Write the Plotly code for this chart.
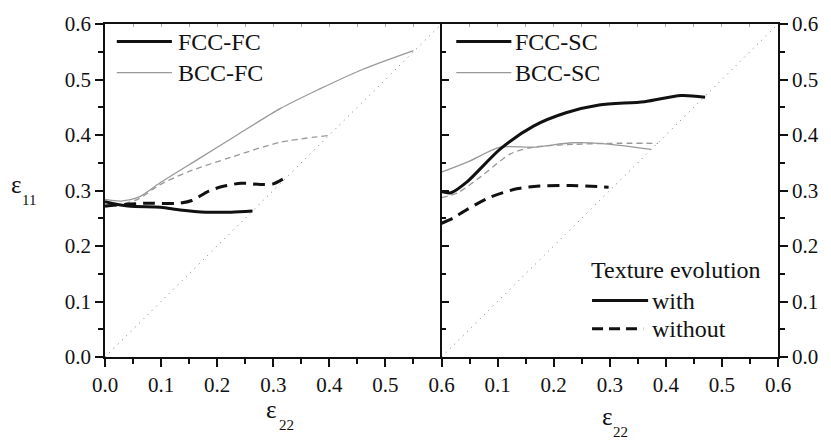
import plotly.graph_objects as go

# ---- data: eps22 (x) vs eps11 (y) ----
# Left panel: FC
fcc_fc_with_x = [0.0, 0.041, 0.099, 0.134, 0.181, 0.225, 0.263]
fcc_fc_with_y = [0.280, 0.272, 0.270, 0.265, 0.261, 0.261, 0.263]
fcc_fc_wo_x = [0.0, 0.07, 0.13, 0.155, 0.185, 0.213, 0.243, 0.277, 0.300, 0.318]
fcc_fc_wo_y = [0.272, 0.277, 0.277, 0.282, 0.299, 0.308, 0.313, 0.311, 0.312, 0.321]
bcc_fc_with_x = [0.0, 0.029, 0.06, 0.097, 0.167, 0.237, 0.313, 0.383, 0.459, 0.55]
bcc_fc_with_y = [0.284, 0.281, 0.288, 0.313, 0.357, 0.401, 0.448, 0.483, 0.518, 0.552]
bcc_fc_wo_x = [0.0, 0.029, 0.06, 0.097, 0.149, 0.225, 0.313, 0.398]
bcc_fc_wo_y = [0.270, 0.275, 0.285, 0.310, 0.334, 0.360, 0.387, 0.399]

# Right panel: SC
fcc_sc_with_x = [0.0, 0.017, 0.046, 0.105, 0.164, 0.222, 0.281, 0.362, 0.427, 0.47]
fcc_sc_with_y = [0.298, 0.296, 0.316, 0.375, 0.416, 0.440, 0.454, 0.460, 0.471, 0.468]
fcc_sc_wo_x = [0.0, 0.02, 0.046, 0.087, 0.134, 0.175, 0.230, 0.298]
fcc_sc_wo_y = [0.241, 0.250, 0.266, 0.288, 0.303, 0.308, 0.309, 0.306]
bcc_sc_with_x = [0.0, 0.046, 0.105, 0.164, 0.234, 0.292, 0.374]
bcc_sc_with_y = [0.333, 0.351, 0.378, 0.378, 0.386, 0.384, 0.374]
bcc_sc_wo_x = [0.0, 0.029, 0.07, 0.123, 0.164, 0.234, 0.300, 0.386]
bcc_sc_wo_y = [0.287, 0.296, 0.325, 0.366, 0.378, 0.383, 0.385, 0.385]

diag = [0.0, 0.6]
x_ticks = [0.0, 0.1, 0.2, 0.3, 0.4, 0.5, 0.6]
y_ticks = [0.0, 0.1, 0.2, 0.3, 0.4, 0.5, 0.6]

FONT = "Times New Roman, Liberation Serif, DejaVu Serif, serif"
BLACK = "#111111"
GRAY = "#999999"
W, H = 831, 443
ML, MR, MT, MB = 105, 42, 15, 86
PW, PH = W - ML - MR, H - MT - MB


def px(xp):
    return (xp - ML) / PW


def py(yp):
    return (H - MB - yp) / PH


fig = go.Figure()

thick = dict(color=BLACK, width=3)
thin = dict(color=GRAY, width=1.3)
thick_dash = dict(color=BLACK, width=3, dash="12px,7px")
thin_dash = dict(color=GRAY, width=1.3, dash="6px,4px")
dotted = dict(color="#777777", width=1, dash="1px,5px")

panels = [
    ("x", "y", fcc_fc_with_x, fcc_fc_with_y, fcc_fc_wo_x, fcc_fc_wo_y,
     bcc_fc_with_x, bcc_fc_with_y, bcc_fc_wo_x, bcc_fc_wo_y),
    ("x2", "y2", fcc_sc_with_x, fcc_sc_with_y, fcc_sc_wo_x, fcc_sc_wo_y,
     bcc_sc_with_x, bcc_sc_with_y, bcc_sc_wo_x, bcc_sc_wo_y),
]
for xa, ya, fwx, fwy, fox, foy, bwx, bwy, box, boy in panels:
    fig.add_trace(go.Scatter(x=diag, y=diag, mode="lines", line=dotted,
                             xaxis=xa, yaxis=ya, showlegend=False))
    for xs, ys, ln in ((box, boy, thin_dash), (bwx, bwy, thin),
                       (fox, foy, thick_dash), (fwx, fwy, thick)):
        fig.add_trace(go.Scatter(x=xs, y=ys, mode="lines",
                                 line=dict(ln, shape="spline", smoothing=0.8),
                                 xaxis=xa, yaxis=ya, showlegend=False))

tickfont = dict(family=FONT, size=21, color=BLACK)
common = dict(range=[0, 0.6], showgrid=False, zeroline=False, showline=True,
              linecolor=BLACK, linewidth=1.5, tickfont=tickfont,
              tickcolor=BLACK, tickwidth=1.5, ticklen=8, tickformat=".1f")
minor_out = dict(ticks="outside", ticklen=5, dtick=0.05, tick0=0, tickcolor=BLACK, tickwidth=1.5)
minor_in = dict(ticks="inside", ticklen=5, dtick=0.05, tick0=0, tickcolor=BLACK, tickwidth=1.5)
top = dict(range=[0, 0.6], showgrid=False, zeroline=False, showline=True,
           linecolor=BLACK, linewidth=1.5, side="top", ticks="inside",
           ticklen=3, tickcolor="#aaaaaa", tickwidth=1, dtick=0.05, tick0=0,
           showticklabels=False)

fig.update_layout(
    width=W, height=H,
    margin=dict(l=ML, r=MR, t=MT, b=MB),
    paper_bgcolor="white", plot_bgcolor="white",
    showlegend=False,
    font=dict(family=FONT, color=BLACK),
    xaxis=dict(domain=[0, 0.5], anchor="y", ticks="outside",
               tickvals=x_ticks, minor=minor_out, **common),
    xaxis2=dict(domain=[0.5, 1], anchor="y2", ticks="outside",
                tickvals=x_ticks[1:], minor=minor_out, **common),
    xaxis3=dict(overlaying="x", anchor="y", **top),
    xaxis4=dict(overlaying="x2", anchor="y2", **top),
    yaxis=dict(domain=[0, 1], anchor="x", ticks="outside",
               tickvals=y_ticks, minor=minor_out, **common),
    yaxis2=dict(domain=[0, 1], anchor="x2", ticks="inside",
                tickvals=y_ticks, minor=minor_in, showticklabels=False,
                **{k: v for k, v in common.items() if k != "tickfont"}),
    yaxis3=dict(overlaying="y2", anchor="x2", side="right", ticks="outside",
                tickvals=y_ticks, minor=minor_out, **common),
)

# the overlay axes need a trace each to be drawn
fig.add_trace(go.Scatter(x=[], y=[], xaxis="x3", yaxis="y", showlegend=False))
fig.add_trace(go.Scatter(x=[], y=[], xaxis="x4", yaxis="y2", showlegend=False))
fig.add_trace(go.Scatter(x=[], y=[], xaxis="x2", yaxis="y3", showlegend=False))

# ---- legends (paper coordinates) ----
shapes = []
ann = []


def legend_line(x0, x1, y, line):
    shapes.append(dict(type="line", xref="paper", yref="paper",
                       x0=px(x0), x1=px(x1), y0=py(y), y1=py(y), line=line))


def label(x, y, text, size=24, xanchor="left"):
    ann.append(dict(xref="paper", yref="paper", x=px(x), y=py(y), text=text,
                    showarrow=False, xanchor=xanchor, yanchor="middle",
                    font=dict(family=FONT, size=size, color=BLACK)))


legend_line(117, 173, 33, thick)
label(177, 33, "FCC-FC")
legend_line(117, 173, 65, thin)
label(177, 65, "BCC-FC")

legend_line(462, 518, 33, thick)
label(520, 33, "FCC-SC")
legend_line(462, 518, 65, thin)
label(520, 65, "BCC-SC")

label(597, 268, "Texture evolution")
legend_line(600, 657, 299, dict(color=BLACK, width=3))
label(659, 299, "with")
legend_line(600, 652, 328, dict(color=BLACK, width=3, dash="11px,6px"))
label(659, 328, "without")

# axis titles: epsilon with a lowered subscript
label(15, 180, "ε", size=25, xanchor="center")
label(28, 196, "11", size=15, xanchor="center")
label(274, 411, "ε", size=25, xanchor="center")
label(289, 427, "22", size=15, xanchor="center")
label(616, 418, "ε", size=25, xanchor="center")
label(629, 434, "22", size=15, xanchor="center")

fig.update_layout(shapes=shapes, annotations=ann)

fig.write_html("out.html")
